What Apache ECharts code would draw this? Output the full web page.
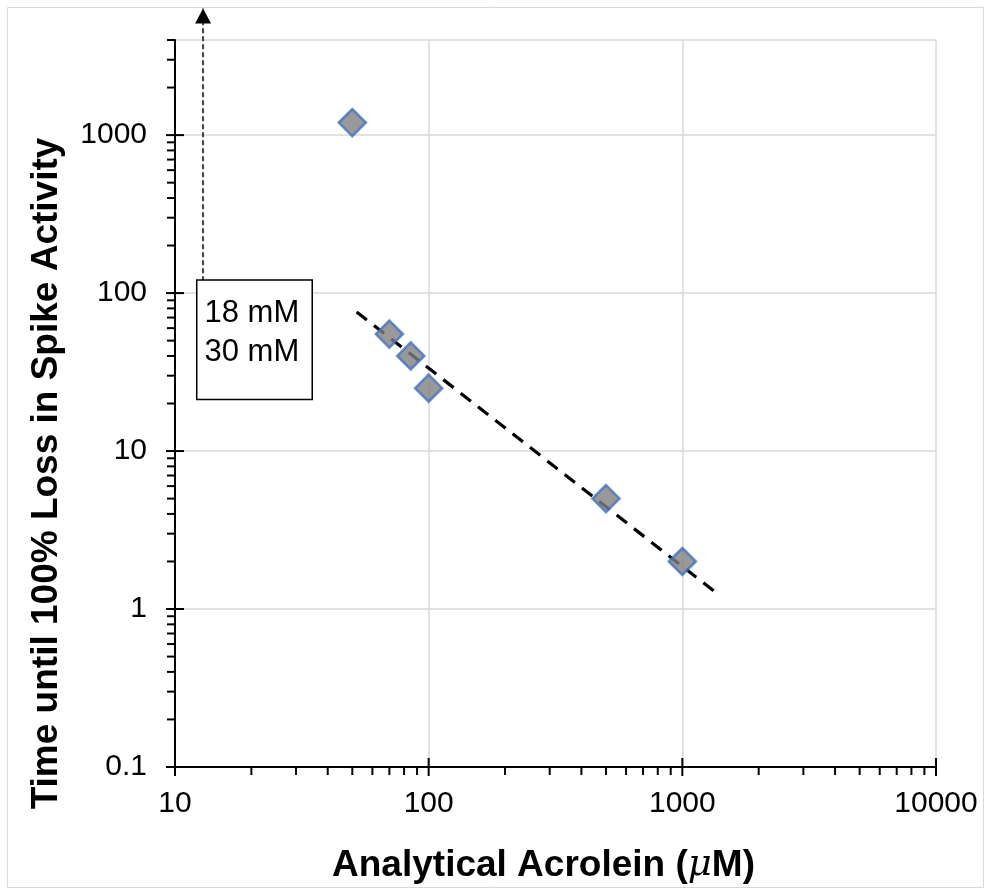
<!DOCTYPE html>
<html>
<head>
<meta charset="utf-8">
<script src="https://cdn.jsdelivr.net/npm/echarts@6/dist/echarts.min.js"></script>
<style>
  html, body { margin: 0; padding: 0; background: #fff; }
  #chart { width: 987px; height: 893px; }
</style>
</head>
<body>
<div id="chart"></div>
<script>
// ---- data ----
const acroleinUM = [50, 70, 85, 100, 500, 1000];
const timeToLoss = [1200, 55, 40, 25, 5, 2];
const trendX = [52, 1340];
const trendY = [76, 1.29];
const arrowX = [12.9, 12.9];
const arrowY = [119, 6340];
const boxAnchor = [12.32, 119];
const boxText = ['18 mM', '30 mM'];
const xTickLabels = ['10', '100', '1000', '10000'];
const yTickLabels = ['0.1', '1', '10', '100', '1000'];
const yMinorMax = 4000;

const FONT = '"Liberation Sans", Arial, sans-serif';

function isNear(a, b) { return Math.abs(Math.log10(a) - Math.log10(b)) < 1e-6; }
function fmt(labels) {
  return function (v) {
    for (const l of labels) { if (isNear(v, Number(l))) return l; }
    return '';
  };
}

// tick marks (axis structure)
const tickData = [];
const xMajors = xTickLabels.map(Number);
const yMajors = yTickLabels.map(Number);
xMajors.forEach(function (d, i) {
  tickData.push([d, 0.1, 1]);
  if (i < xMajors.length - 1) {
    for (let k = 2; k <= 9; k++) tickData.push([d * k, 0.1, 0]);
  }
});
yMajors.forEach(function (d) {
  tickData.push([10, d, 3]);
  for (let k = 2; k <= 9; k++) {
    if (d * k <= yMinorMax + 1e-9) tickData.push([10, d * k, 2]);
  }
});

const chart = echarts.init(document.getElementById('chart'), null, { renderer: 'canvas' });

chart.setOption({
  animation: false,
  backgroundColor: '#fff',
  textStyle: { fontFamily: FONT },
  graphic: [{
    type: 'rect', silent: true, z: -1,
    shape: { x: 7.5, y: 7.5, width: 976, height: 880 },
    style: { fill: 'none', stroke: '#d9d9d9', lineWidth: 1 }
  }],
  grid: { left: 175, right: 51, top: 40, bottom: 126, containLabel: false },
  xAxis: {
    type: 'log', logBase: 10, min: 10, max: 10000,
    name: '{n|Analytical Acrolein (}{mu|\u03bc}{n|M)}',
    nameLocation: 'middle', nameGap: 80,
    nameTextStyle: {
      fontSize: 37, fontWeight: 'bold', color: '#000', fontFamily: FONT, padding: [0, 24, 0, 0],
      rich: {
        n: { fontSize: 37, fontWeight: 'bold', color: '#000', fontFamily: FONT },
        mu: { fontSize: 37, fontWeight: 'normal', fontStyle: 'italic', color: '#000', fontFamily: '"DejaVu Serif", serif' }
      }
    },
    axisLine: { show: true, onZero: false, lineStyle: { color: '#000', width: 2 } },
    axisTick: { show: false },
    minorTick: { show: false },
    axisLabel: { show: true, margin: 22, fontSize: 30, color: '#000', fontFamily: FONT, formatter: fmt(xTickLabels) },
    splitLine: { show: true, lineStyle: { color: '#d9d9d9', width: 1.5 } }
  },
  yAxis: {
    type: 'log', logBase: 10, min: 0.1, max: yMinorMax,
    name: 'Time until 100% Loss in Spike Activity',
    nameLocation: 'middle', nameGap: 110,
    nameTextStyle: { fontSize: 37, fontWeight: 'bold', color: '#000', fontFamily: FONT, padding: [0, 140, 0, 0] },
    axisLine: { show: true, onZero: false, lineStyle: { color: '#000', width: 2 } },
    axisTick: { show: false },
    minorTick: { show: false },
    axisLabel: { show: true, margin: 28, fontSize: 30, color: '#000', fontFamily: FONT, formatter: fmt(yTickLabels), showMaxLabel: false },
    splitLine: {
      show: true,
      interval: function (idx, val) { return !(isNear(val, yMinorMax) || Math.abs(val - Math.log10(yMinorMax)) < 1e-6); },
      lineStyle: { color: '#d9d9d9', width: 1.5 }
    }
  },
  series: [
    {
      type: 'custom', name: 'ticks', clip: false, silent: true, z: 5,
      data: tickData,
      encode: { x: 0, y: 1 },
      renderItem: function (params, api) {
        const kind = api.value(2);
        const p = api.coord([api.value(0), api.value(1)]);
        let x1, y1, x2, y2;
        if (kind === 0) { x1 = x2 = p[0]; y1 = p[1]; y2 = p[1] + 8; }
        else if (kind === 1) { x1 = x2 = p[0]; y1 = p[1] - 9; y2 = p[1] + 9; }
        else if (kind === 2) { y1 = y2 = p[1]; x1 = p[0] - 8; x2 = p[0]; }
        else { y1 = y2 = p[1]; x1 = p[0] - 9; x2 = p[0] + 9; }
        return { type: 'line', shape: { x1: x1, y1: y1, x2: x2, y2: y2 }, style: { stroke: '#000', lineWidth: 2 } };
      }
    },
    {
      type: 'line', name: 'arrow', clip: false, silent: true, z: 3,
      showSymbol: true,
      data: [
        { value: [arrowX[0], arrowY[0]], symbol: 'none' },
        { value: [arrowX[1], arrowY[1]], symbol: 'triangle', symbolSize: [16, 15], symbolOffset: [0, 7.5], itemStyle: { color: '#000' } }
      ],
      lineStyle: { color: '#404040', width: 2, type: [5, 3] },
      itemStyle: { color: '#000', borderWidth: 0 }
    },
    {
      type: 'line', name: 'trend', silent: true, z: 4,
      data: trendX.map(function (x, i) { return [x, trendY[i]]; }),
      showSymbol: false, symbol: 'none',
      lineStyle: { color: '#000', width: 3.2, type: [13, 9] }
    },
    {
      type: 'scatter', name: 'data', z: 6,
      data: acroleinUM.map(function (x, i) { return [x, timeToLoss[i]]; }),
      symbol: 'diamond', symbolSize: 27,
      itemStyle: { color: '#7f7f7f', borderColor: '#4472C4', borderWidth: 2.6 }
    },
    {
      type: 'scatter', name: 'box', clip: false, silent: true, z: 7,
      data: [boxAnchor],
      symbolSize: 1,
      itemStyle: { color: 'rgba(0,0,0,0)' },
      label: {
        show: true, position: [0, 0], opacity: 1,
        formatter: boxText.join('\n'),
        fontSize: 31, lineHeight: 39, color: '#000', fontFamily: FONT,
        align: 'left', verticalAlign: 'top',
        width: 100,
        backgroundColor: '#fff', borderColor: '#000', borderWidth: 1.5,
        padding: [13, 7, 27, 7]
      }
    }
  ]
});
</script>
</body>
</html>
